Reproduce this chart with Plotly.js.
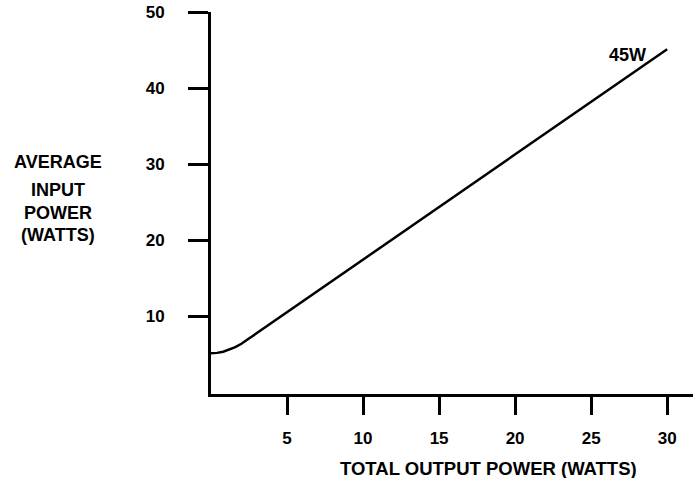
<!DOCTYPE html>
<html>
<head>
<meta charset="utf-8">
<script src="https://cdn.plot.ly/plotly-3.0.1.min.js"></script>
<style>html,body{margin:0;padding:0;background:#fff;}#chart{width:695px;height:478px;}</style>
</head>
<body>
<div id="chart"></div>
<script>
// Data
const outputPower = [0, 0.4, 0.8, 1.2, 1.6, 2.0, 2.4, 30];
const inputPower  = [5.1, 5.15, 5.3, 5.55, 5.9, 6.35, 6.9, 45.1];
const xTicks = [5, 10, 15, 20, 25, 30];
const yTicks = [10, 20, 30, 40, 50];
const yTitleLines = ["AVERAGE", "INPUT", "POWER", "(WATTS)"];
const xTitleText = "TOTAL OUTPUT POWER (WATTS)";
const curveLabel = "45W";

const fontFam = '"Liberation Sans", Arial, sans-serif';
const txtFont = {family: fontFam, size: 18, color: '#000', weight: 700};

const trace = {
  x: outputPower, y: inputPower, type: 'scatter', mode: 'lines',
  line: {color: '#000', width: 2.5}, hoverinfo: 'skip', showlegend: false
};

const yTitleY = [0.607, 0.534, 0.474, 0.416];
const annotations = yTitleLines.map((t, i) => ({
  text: t, xref: 'paper', yref: 'paper', x: -0.317, y: yTitleY[i],
  xanchor: 'center', yanchor: 'middle', showarrow: false, font: txtFont
}));
annotations.push({
  text: xTitleText, xref: 'paper', yref: 'paper', x: 0.575, y: -0.196,
  xanchor: 'center', yanchor: 'middle', showarrow: false,
  font: {family: fontFam, size: 18.5, color: '#000', weight: 700}
});
annotations.push({
  text: curveLabel, xref: 'x', yref: 'y', x: 27.4, y: 44.3,
  xanchor: 'center', yanchor: 'middle', showarrow: false, font: txtFont
});

const layout = {
  width: 695, height: 478,
  margin: {l: 211, r: 2, t: 12, b: 84},
  paper_bgcolor: '#fff', plot_bgcolor: '#fff',
  font: {family: fontFam, size: 17, color: '#000', weight: 700},
  showlegend: false,
  xaxis: {
    range: [0, 31.7], tickvals: xTicks, ticktext: xTicks.map(String),
    showgrid: false, zeroline: false, showline: true, linecolor: '#000', linewidth: 3,
    ticks: 'outside', ticklen: 18, tickwidth: 3, tickcolor: '#000',
    ticklabelstandoff: 9,
    tickfont: {family: fontFam, size: 17, color: '#000', weight: 700}
  },
  yaxis: {
    range: [-0.26, 50], tickvals: yTicks, ticktext: yTicks.map(String),
    showgrid: false, zeroline: false, showline: true, linecolor: '#000', linewidth: 3,
    ticks: 'outside', ticklen: 20, tickwidth: 3, tickcolor: '#000',
    ticklabelstandoff: 20,
    tickfont: {family: fontFam, size: 17, color: '#000', weight: 700}
  },
  annotations: annotations
};

Plotly.newPlot('chart', [trace], layout, {displayModeBar: false, staticPlot: true});
</script>
</body>
</html>
